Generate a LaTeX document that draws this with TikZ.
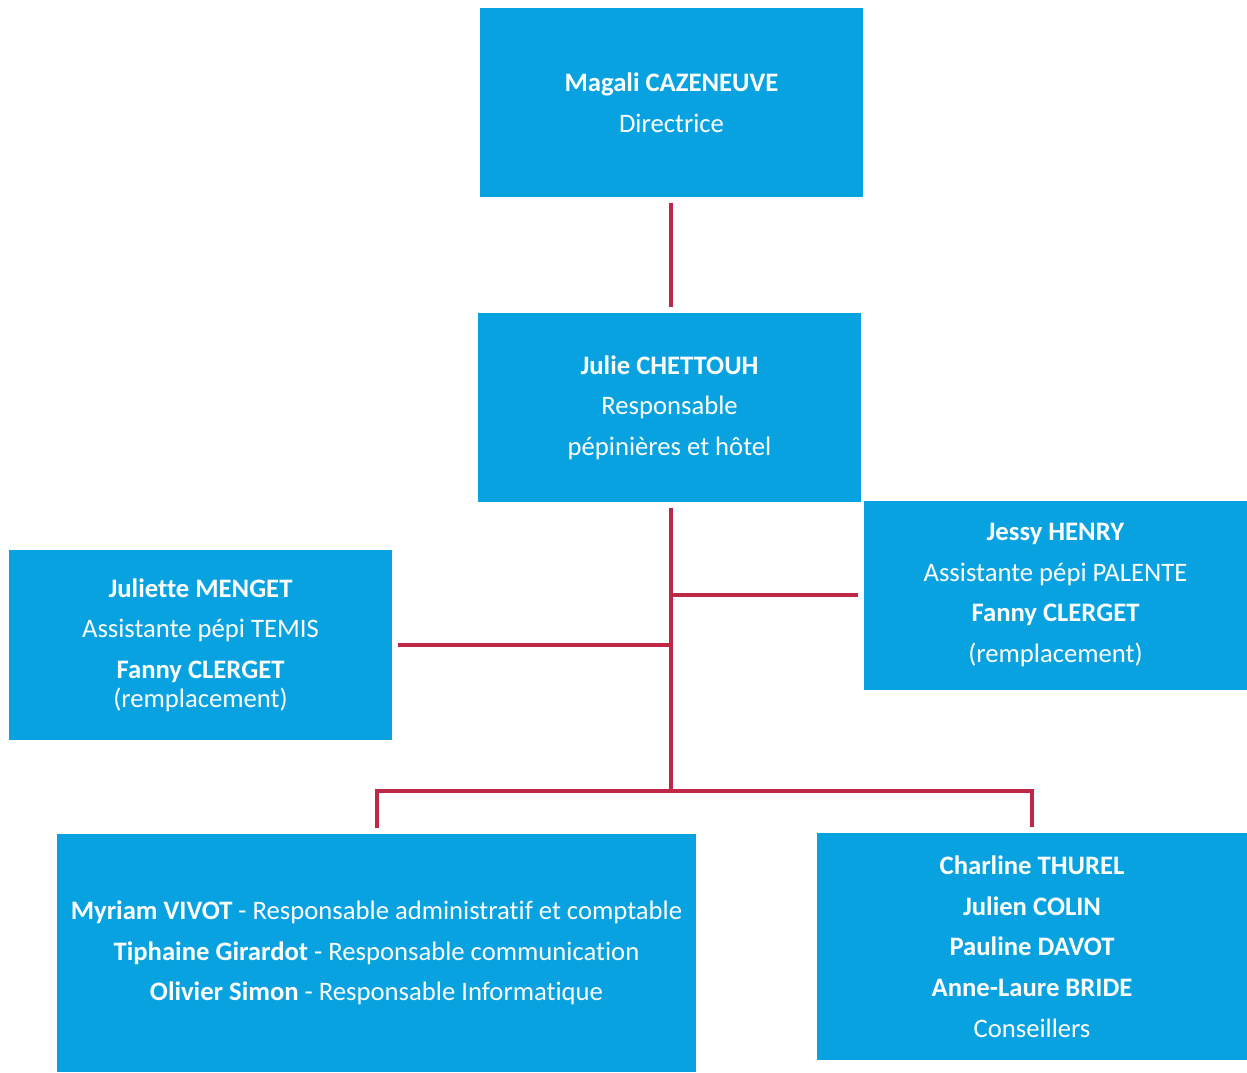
\documentclass[tikz,border=0pt]{standalone}
\usepackage{fontspec}
\setmainfont{Carlito}[Ligatures=NoCommon]
\definecolor{boxblue}{HTML}{08A2E0}
\definecolor{linkred}{HTML}{BE2846}
\begin{document}
\begin{tikzpicture}[x=0.75pt,y=-0.75pt,
    box/.style={fill=boxblue,text=white,align=center,inner sep=0pt,
        font=\fontsize{20}{30.5}\selectfont,minimum width=287.25pt,minimum height=141.75pt},
    link/.style={linkred,line width=3pt,shorten <=4pt,shorten >=4pt}]
        \useasboundingbox (0,0) rectangle (1247,1072);
        \node[box] (dir) at (671.5,102.5) {\textbf{Magali CAZENEUVE}\\Directrice};
        \node[box] (resp) at (669.5,407.5) {\textbf{Julie CHETTOUH}\\Responsable\\pépinières et hôtel};
        \node[box] (jessy) at (1055.5,595) {\textbf{Jessy HENRY}\\Assistante pépi PALENTE\\\textbf{Fanny CLERGET}\\(remplacement)};
        \node[box,minimum height=142.5pt] (juliette) at (200.5,645) {\textbf{Juliette MENGET}\\Assistante pépi TEMIS\\\textbf{Fanny CLERGET}\\[-9pt](remplacement)};
        \node[box,minimum width=479.25pt,minimum height=178.5pt] (team) at (376.5,953) {\textbf{Myriam VIVOT} - Responsable administratif et comptable\\\textbf{Tiphaine Girardot} - Responsable communication\\\textbf{Olivier Simon} - Responsable Informatique};
        \node[box,minimum width=322.5pt,minimum height=170.25pt] (conseil) at (1032,946.5) {\textbf{Charline THUREL}\\\textbf{Julien COLIN}\\\textbf{Pauline DAVOT}\\\textbf{Anne-Laure BRIDE}\\Conseillers};
        \coordinate (fork) at (671,791);
        \draw[link] (dir.south -| fork) -- (resp.north -| fork);
        \draw[link,shorten >=0pt] (resp.south -| fork) -- (fork);
        \draw[link,shorten <=0pt] (jessy.west -| fork) -- (jessy.west);
        \draw[link,shorten <=0pt] (juliette.east -| fork) -- (juliette.east);
        \draw[link,shorten <=0pt] (fork) -| (team.north);
        \draw[link,shorten <=0pt] (fork) -| (conseil.north);
\end{tikzpicture}
\end{document}
